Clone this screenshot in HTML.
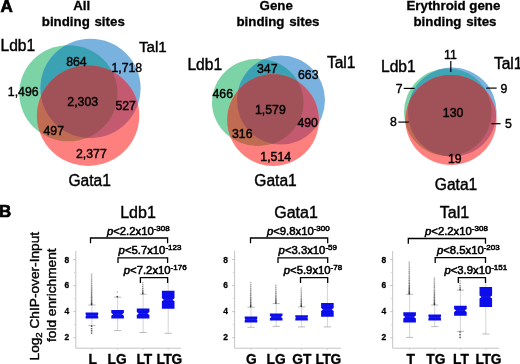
<!DOCTYPE html>
<html lang="en"><head><meta charset="utf-8"><title>Figure</title>
<style>
html,body{margin:0;padding:0;background:#fff;}
svg{display:block;filter:blur(0.45px);}
svg text{font-family:"Liberation Sans", sans-serif;fill:#000;stroke:#000;stroke-width:0.4px;}
svg text[font-weight=bold]{stroke-width:0.3px;}
</style></head>
<body>
<svg width="520" height="364" viewBox="0 0 520 364">
<rect width="520" height="364" fill="#fff"/>
<defs>
<clipPath id="cg1"><ellipse cx="68.40" cy="93.25" rx="49.10" ry="48.05"/></clipPath>
<clipPath id="cb1"><ellipse cx="90.50" cy="88.35" rx="50.10" ry="49.65"/></clipPath>
<clipPath id="cr1"><ellipse cx="88.10" cy="115.70" rx="51.20" ry="50.20"/></clipPath>
</defs>
<ellipse cx="68.40" cy="93.25" rx="49.10" ry="48.05" fill="#7cd4a6"/>
<ellipse cx="90.50" cy="88.35" rx="50.10" ry="49.65" fill="#79b2de"/>
<ellipse cx="88.10" cy="115.70" rx="51.20" ry="50.20" fill="#fd807e"/>
<g clip-path="url(#cb1)"><ellipse cx="68.40" cy="93.25" rx="49.10" ry="48.05" fill="#3ba2b4"/></g>
<g clip-path="url(#cr1)"><ellipse cx="68.40" cy="93.25" rx="49.10" ry="48.05" fill="#bf6c53"/></g>
<g clip-path="url(#cr1)"><ellipse cx="90.50" cy="88.35" rx="50.10" ry="49.65" fill="#c35a70"/></g>
<g clip-path="url(#cr1)"><g clip-path="url(#cb1)"><ellipse cx="68.40" cy="93.25" rx="49.10" ry="48.05" fill="#a05258"/></g></g>
<defs>
<clipPath id="cg2"><ellipse cx="257.75" cy="102.40" rx="45.75" ry="43.70"/></clipPath>
<clipPath id="cb2"><ellipse cx="281.00" cy="100.10" rx="44.00" ry="44.50"/></clipPath>
<clipPath id="cr2"><ellipse cx="273.05" cy="120.10" rx="45.85" ry="45.80"/></clipPath>
</defs>
<ellipse cx="257.75" cy="102.40" rx="45.75" ry="43.70" fill="#7cd4a6"/>
<ellipse cx="281.00" cy="100.10" rx="44.00" ry="44.50" fill="#79b2de"/>
<ellipse cx="273.05" cy="120.10" rx="45.85" ry="45.80" fill="#fd807e"/>
<g clip-path="url(#cb2)"><ellipse cx="257.75" cy="102.40" rx="45.75" ry="43.70" fill="#3ba2b4"/></g>
<g clip-path="url(#cr2)"><ellipse cx="257.75" cy="102.40" rx="45.75" ry="43.70" fill="#bf6c53"/></g>
<g clip-path="url(#cr2)"><ellipse cx="281.00" cy="100.10" rx="44.00" ry="44.50" fill="#c35a70"/></g>
<g clip-path="url(#cr2)"><g clip-path="url(#cb2)"><ellipse cx="257.75" cy="102.40" rx="45.75" ry="43.70" fill="#a05258"/></g></g>
<defs>
<clipPath id="cg3"><ellipse cx="447.80" cy="112.20" rx="43.80" ry="43.80"/></clipPath>
<clipPath id="cb3"><ellipse cx="452.25" cy="112.10" rx="44.35" ry="44.60"/></clipPath>
<clipPath id="cr3"><ellipse cx="451.00" cy="119.95" rx="45.60" ry="45.05"/></clipPath>
</defs>
<ellipse cx="447.80" cy="112.20" rx="43.80" ry="43.80" fill="#7cd4a6"/>
<ellipse cx="452.25" cy="112.10" rx="44.35" ry="44.60" fill="#79b2de"/>
<ellipse cx="451.00" cy="119.95" rx="45.60" ry="45.05" fill="#fd807e"/>
<g clip-path="url(#cb3)"><ellipse cx="447.80" cy="112.20" rx="43.80" ry="43.80" fill="#3fa5b4"/></g>
<g clip-path="url(#cr3)"><ellipse cx="447.80" cy="112.20" rx="43.80" ry="43.80" fill="#bf6c53"/></g>
<g clip-path="url(#cr3)"><ellipse cx="452.25" cy="112.10" rx="44.35" ry="44.60" fill="#c35a70"/></g>
<g clip-path="url(#cr3)"><g clip-path="url(#cb3)"><ellipse cx="447.80" cy="112.20" rx="43.80" ry="43.80" fill="#a05258"/></g></g>
<text x="0.4" y="12.3" font-size="17.0" font-weight="bold" text-anchor="start" style="stroke-width:0.7px">A</text>
<text x="-1.1" y="217.4" font-size="16.9" font-weight="bold" text-anchor="start" style="stroke-width:0.7px">B</text>
<text x="81.7" y="9.9" font-size="13.3" font-weight="bold" text-anchor="middle" >All</text>
<text x="83.3" y="25.8" font-size="13.3" font-weight="bold" text-anchor="middle" word-spacing="1">binding sites</text>
<text x="276.2" y="9.9" font-size="13.3" font-weight="bold" text-anchor="middle" >Gene</text>
<text x="278" y="25.8" font-size="13.3" font-weight="bold" text-anchor="middle" word-spacing="1">binding sites</text>
<text x="453.4" y="9.9" font-size="13.3" font-weight="bold" text-anchor="middle" >Erythroid gene</text>
<text x="455" y="25.8" font-size="13.3" font-weight="bold" text-anchor="middle" word-spacing="1">binding sites</text>
<text x="0.5" y="51.0" font-size="15.6" font-weight="normal" text-anchor="start" >Ldb1</text>
<text x="138.9" y="51.8" font-size="15.2" font-weight="normal" text-anchor="start" >Tal1</text>
<text x="68.4" y="186.2" font-size="15.6" font-weight="normal" text-anchor="start" >Gata1</text>
<text x="187.4" y="70.2" font-size="15.6" font-weight="normal" text-anchor="start" >Ldb1</text>
<text x="326.9" y="67.7" font-size="15.6" font-weight="normal" text-anchor="start" >Tal1</text>
<text x="254.3" y="186.0" font-size="15.6" font-weight="normal" text-anchor="start" >Gata1</text>
<text x="381.0" y="72.0" font-size="15.6" font-weight="normal" text-anchor="start" >Ldb1</text>
<text x="493.9" y="69.2" font-size="15.6" font-weight="normal" text-anchor="start" >Tal1</text>
<text x="434.8" y="189.5" font-size="15.6" font-weight="normal" text-anchor="start" >Gata1</text>
<text x="66.2" y="66.3" font-size="12.3" font-weight="normal" text-anchor="start" >864</text>
<text x="111.4" y="71.8" font-size="12.3" font-weight="normal" text-anchor="start" >1,718</text>
<text x="7.8" y="95.5" font-size="12.3" font-weight="normal" text-anchor="start" >1,496</text>
<text x="67.3" y="105.8" font-size="12.3" font-weight="normal" text-anchor="start" >2,303</text>
<text x="115.4" y="109.8" font-size="12.3" font-weight="normal" text-anchor="start" >527</text>
<text x="43.5" y="135.2" font-size="12.3" font-weight="normal" text-anchor="start" >497</text>
<text x="76" y="157.6" font-size="12.3" font-weight="normal" text-anchor="start" >2,377</text>
<text x="257" y="73.2" font-size="12.3" font-weight="normal" text-anchor="start" >347</text>
<text x="298" y="79.3" font-size="12.3" font-weight="normal" text-anchor="start" >663</text>
<text x="212.5" y="97.8" font-size="12.3" font-weight="normal" text-anchor="start" >466</text>
<text x="255" y="113.8" font-size="12.3" font-weight="normal" text-anchor="start" >1,579</text>
<text x="297.4" y="126.7" font-size="12.3" font-weight="normal" text-anchor="start" >490</text>
<text x="232" y="137.7" font-size="12.3" font-weight="normal" text-anchor="start" >316</text>
<text x="260.3" y="161.3" font-size="12.3" font-weight="normal" text-anchor="start" >1,514</text>
<text x="444.0" y="58.7" font-size="12.3" font-weight="normal" text-anchor="start" >11</text>
<text x="395.8" y="92.9" font-size="12.3" font-weight="normal" text-anchor="start" >7</text>
<text x="500.6" y="92.8" font-size="12.3" font-weight="normal" text-anchor="start" >9</text>
<text x="442.8" y="117.4" font-size="12.3" font-weight="normal" text-anchor="start" >130</text>
<text x="390" y="126" font-size="12.3" font-weight="normal" text-anchor="start" >8</text>
<text x="505" y="128.4" font-size="12.3" font-weight="normal" text-anchor="start" >5</text>
<text x="448" y="163.3" font-size="12.3" font-weight="normal" text-anchor="start" >19</text>
<line x1="450.80" y1="61.00" x2="450.80" y2="72.00" stroke="#000" stroke-width="1.2" />
<line x1="403.70" y1="88.40" x2="414.60" y2="88.40" stroke="#000" stroke-width="1.2" />
<line x1="486.20" y1="88.10" x2="496.60" y2="88.10" stroke="#000" stroke-width="1.2" />
<line x1="398.30" y1="122.10" x2="408.80" y2="122.10" stroke="#000" stroke-width="1.2" />
<line x1="491.40" y1="123.70" x2="500.60" y2="123.70" stroke="#000" stroke-width="1.2" />
<line x1="75.80" y1="251.00" x2="75.80" y2="348.20" stroke="#c4c4c4" stroke-width="1" />
<line x1="75.80" y1="348.20" x2="181.00" y2="348.20" stroke="#c4c4c4" stroke-width="1" />
<line x1="73.40" y1="337.70" x2="75.80" y2="337.70" stroke="#bcbcbc" stroke-width="0.9" />
<text x="69.2" y="339.5" font-size="9.8" font-weight="bold" text-anchor="end" textLength="4.7" lengthAdjust="spacingAndGlyphs">2</text>
<line x1="73.40" y1="311.64" x2="75.80" y2="311.64" stroke="#bcbcbc" stroke-width="0.9" />
<text x="69.2" y="313.6" font-size="9.8" font-weight="bold" text-anchor="end" textLength="4.7" lengthAdjust="spacingAndGlyphs">4</text>
<line x1="73.40" y1="285.58" x2="75.80" y2="285.58" stroke="#bcbcbc" stroke-width="0.9" />
<text x="69.2" y="287.7" font-size="9.8" font-weight="bold" text-anchor="end" textLength="4.7" lengthAdjust="spacingAndGlyphs">6</text>
<line x1="73.40" y1="259.52" x2="75.80" y2="259.52" stroke="#bcbcbc" stroke-width="0.9" />
<text x="69.2" y="262.8" font-size="9.8" font-weight="bold" text-anchor="end" textLength="4.7" lengthAdjust="spacingAndGlyphs">8</text>
<line x1="74.10" y1="324.67" x2="75.80" y2="324.67" stroke="#cfcfcf" stroke-width="0.9" />
<line x1="74.10" y1="298.61" x2="75.80" y2="298.61" stroke="#cfcfcf" stroke-width="0.9" />
<line x1="74.10" y1="272.55" x2="75.80" y2="272.55" stroke="#cfcfcf" stroke-width="0.9" />
<text x="138" y="217.5" font-size="16" font-weight="normal" text-anchor="middle" >Ldb1</text>
<line x1="91.90" y1="305.00" x2="91.90" y2="325.60" stroke="#cccccc" stroke-width="0.85" />
<line x1="88.30" y1="305.00" x2="95.50" y2="305.00" stroke="#b0b0b0" stroke-width="0.85" />
<line x1="88.30" y1="325.60" x2="95.50" y2="325.60" stroke="#b0b0b0" stroke-width="0.85" />
<circle cx="91.6" cy="304.4" r="0.85" fill="#222" opacity="0.88"/>
<circle cx="91.6" cy="303.3" r="0.85" fill="#222" opacity="0.81"/>
<circle cx="91.6" cy="302.0" r="0.85" fill="#222" opacity="0.76"/>
<circle cx="91.6" cy="300.5" r="0.85" fill="#222" opacity="0.72"/>
<circle cx="91.6" cy="299.0" r="0.85" fill="#222" opacity="0.69"/>
<circle cx="91.6" cy="297.4" r="0.85" fill="#222" opacity="0.66"/>
<circle cx="91.6" cy="295.8" r="0.85" fill="#222" opacity="0.63"/>
<circle cx="91.6" cy="294.1" r="0.85" fill="#222" opacity="0.60"/>
<circle cx="91.6" cy="292.4" r="0.85" fill="#222" opacity="0.57"/>
<circle cx="91.6" cy="290.7" r="0.85" fill="#222" opacity="0.54"/>
<circle cx="91.6" cy="288.9" r="0.85" fill="#222" opacity="0.52"/>
<circle cx="91.6" cy="287.1" r="0.85" fill="#222" opacity="0.49"/>
<circle cx="91.6" cy="285.3" r="0.85" fill="#222" opacity="0.47"/>
<circle cx="91.6" cy="283.5" r="0.85" fill="#222" opacity="0.44"/>
<circle cx="91.6" cy="281.6" r="0.85" fill="#222" opacity="0.42"/>
<circle cx="91.6" cy="279.8" r="0.85" fill="#222" opacity="0.40"/>
<circle cx="91.6" cy="277.9" r="0.85" fill="#222" opacity="0.37"/>
<circle cx="91.6" cy="275.9" r="0.85" fill="#222" opacity="0.35"/>
<circle cx="91.6" cy="274.0" r="0.85" fill="#222" opacity="0.33"/>
<circle cx="91.6" cy="326.2" r="0.85" fill="#222" opacity="0.75"/>
<circle cx="91.6" cy="328.5" r="0.85" fill="#222" opacity="0.75"/>
<circle cx="91.6" cy="330.7" r="0.85" fill="#222" opacity="0.75"/>
<circle cx="91.6" cy="333.0" r="0.85" fill="#222" opacity="0.75"/>
<line x1="91.90" y1="348.20" x2="91.90" y2="349.80" stroke="#c4c4c4" stroke-width="0.9" />
<polygon points="85.6,312.6 98.2,312.6 98.2,314.6 97.6,315.6 98.2,316.6 98.2,318.6 85.6,318.6 85.6,316.6 86.2,315.6 85.6,314.6" fill="#0d0dea"/>
<line x1="86.20" y1="315.60" x2="97.60" y2="315.60" stroke="#4a4af0" stroke-width="0.6" opacity="0.45"/>
<text x="92.6" y="363.6" font-size="13.8" font-weight="bold" text-anchor="middle" >L</text>
<line x1="117.60" y1="297.20" x2="117.60" y2="330.60" stroke="#cccccc" stroke-width="0.85" />
<line x1="114.00" y1="297.20" x2="121.20" y2="297.20" stroke="#b0b0b0" stroke-width="0.85" />
<line x1="114.00" y1="330.60" x2="121.20" y2="330.60" stroke="#b0b0b0" stroke-width="0.85" />
<circle cx="117.3" cy="296.6" r="0.85" fill="#222" opacity="0.88"/>
<circle cx="117.3" cy="292.0" r="0.85" fill="#222" opacity="0.33"/>
<line x1="117.60" y1="348.20" x2="117.60" y2="349.80" stroke="#c4c4c4" stroke-width="0.9" />
<polygon points="111.3,310.0 123.9,310.0 123.9,312.9 122.0,314.3 123.9,315.7 123.9,318.6 111.3,318.6 111.3,315.7 113.2,314.3 111.3,312.9" fill="#0d0dea"/>
<line x1="113.21" y1="314.30" x2="121.99" y2="314.30" stroke="#4a4af0" stroke-width="0.6" opacity="0.45"/>
<text x="117.1" y="363.6" font-size="13.8" font-weight="bold" text-anchor="middle" >LG</text>
<line x1="143.10" y1="294.20" x2="143.10" y2="332.50" stroke="#cccccc" stroke-width="0.85" />
<line x1="139.50" y1="294.20" x2="146.70" y2="294.20" stroke="#b0b0b0" stroke-width="0.85" />
<line x1="139.50" y1="332.50" x2="146.70" y2="332.50" stroke="#b0b0b0" stroke-width="0.85" />
<circle cx="142.8" cy="293.6" r="0.85" fill="#222" opacity="0.88"/>
<circle cx="142.8" cy="292.2" r="0.85" fill="#222" opacity="0.72"/>
<circle cx="142.8" cy="290.5" r="0.85" fill="#222" opacity="0.63"/>
<circle cx="142.8" cy="288.6" r="0.85" fill="#222" opacity="0.54"/>
<circle cx="142.8" cy="286.6" r="0.85" fill="#222" opacity="0.47"/>
<circle cx="142.8" cy="284.6" r="0.85" fill="#222" opacity="0.40"/>
<circle cx="142.8" cy="282.5" r="0.85" fill="#222" opacity="0.33"/>
<line x1="143.10" y1="348.20" x2="143.10" y2="349.80" stroke="#c4c4c4" stroke-width="0.9" />
<polygon points="136.8,308.4 149.4,308.4 149.4,312.1 147.4,313.6 149.4,315.1 149.4,318.6 136.8,318.6 136.8,315.1 138.8,313.6 136.8,312.1" fill="#0d0dea"/>
<line x1="138.80" y1="313.60" x2="147.40" y2="313.60" stroke="#4a4af0" stroke-width="0.6" opacity="0.45"/>
<text x="144.4" y="363.6" font-size="13.8" font-weight="bold" text-anchor="middle" >LT</text>
<line x1="168.20" y1="279.00" x2="168.20" y2="333.30" stroke="#cccccc" stroke-width="0.85" />
<line x1="164.60" y1="333.30" x2="171.80" y2="333.30" stroke="#b0b0b0" stroke-width="0.85" />
<line x1="168.20" y1="348.20" x2="168.20" y2="349.80" stroke="#c4c4c4" stroke-width="0.9" />
<polygon points="161.9,290.7 174.5,290.7 174.5,298.2 172.5,299.7 174.5,301.2 174.5,308.8 161.9,308.8 161.9,301.2 163.9,299.7 161.9,298.2" fill="#0d0dea"/>
<line x1="163.90" y1="299.70" x2="172.50" y2="299.70" stroke="#4a4af0" stroke-width="0.6" opacity="0.45"/>
<text x="169.2" y="363.6" font-size="13.8" font-weight="bold" text-anchor="middle" letter-spacing="-0.4">LTG</text>
<polyline points="90.5,243.3 90.5,238 167.6,238 167.6,243.3" fill="none" stroke="#000" stroke-width="1.3"/>
<polyline points="118,263.1 118,257.8 167.6,257.8 167.6,263.1" fill="none" stroke="#000" stroke-width="1.3"/>
<polyline points="140.4,282.9 140.4,277.6 167.6,277.6 167.6,282.9" fill="none" stroke="#000" stroke-width="1.3"/>
<text x="106.9" y="235" font-size="11.3" style="stroke-width:0.55px"><tspan font-style="italic">p</tspan>&lt;2.2x10<tspan font-size="8" dy="-4.3">-308</tspan></text>
<text x="118.6" y="254.4" font-size="11.3" style="stroke-width:0.55px"><tspan font-style="italic">p</tspan>&lt;5.7x10<tspan font-size="8" dy="-4.3">-123</tspan></text>
<text x="123.8" y="274.2" font-size="11.3" style="stroke-width:0.55px"><tspan font-style="italic">p</tspan>&lt;7.2x10<tspan font-size="8" dy="-4.3">-176</tspan></text>
<line x1="234.60" y1="251.00" x2="234.60" y2="348.20" stroke="#c4c4c4" stroke-width="1" />
<line x1="234.60" y1="348.20" x2="341.00" y2="348.20" stroke="#c4c4c4" stroke-width="1" />
<line x1="232.20" y1="337.70" x2="234.60" y2="337.70" stroke="#bcbcbc" stroke-width="0.9" />
<text x="228.0" y="339.5" font-size="9.8" font-weight="bold" text-anchor="end" textLength="4.7" lengthAdjust="spacingAndGlyphs">2</text>
<line x1="232.20" y1="311.64" x2="234.60" y2="311.64" stroke="#bcbcbc" stroke-width="0.9" />
<text x="228.0" y="313.6" font-size="9.8" font-weight="bold" text-anchor="end" textLength="4.7" lengthAdjust="spacingAndGlyphs">4</text>
<line x1="232.20" y1="285.58" x2="234.60" y2="285.58" stroke="#bcbcbc" stroke-width="0.9" />
<text x="228.0" y="287.7" font-size="9.8" font-weight="bold" text-anchor="end" textLength="4.7" lengthAdjust="spacingAndGlyphs">6</text>
<line x1="232.20" y1="259.52" x2="234.60" y2="259.52" stroke="#bcbcbc" stroke-width="0.9" />
<text x="228.0" y="262.8" font-size="9.8" font-weight="bold" text-anchor="end" textLength="4.7" lengthAdjust="spacingAndGlyphs">8</text>
<line x1="232.90" y1="324.67" x2="234.60" y2="324.67" stroke="#cfcfcf" stroke-width="0.9" />
<line x1="232.90" y1="298.61" x2="234.60" y2="298.61" stroke="#cfcfcf" stroke-width="0.9" />
<line x1="232.90" y1="272.55" x2="234.60" y2="272.55" stroke="#cfcfcf" stroke-width="0.9" />
<text x="296" y="217.5" font-size="16" font-weight="normal" text-anchor="middle" >Gata1</text>
<line x1="251.00" y1="307.20" x2="251.00" y2="327.30" stroke="#cccccc" stroke-width="0.85" />
<line x1="247.40" y1="307.20" x2="254.60" y2="307.20" stroke="#b0b0b0" stroke-width="0.85" />
<line x1="247.40" y1="327.30" x2="254.60" y2="327.30" stroke="#b0b0b0" stroke-width="0.85" />
<circle cx="250.7" cy="306.6" r="0.85" fill="#222" opacity="0.88"/>
<circle cx="250.7" cy="305.4" r="0.85" fill="#222" opacity="0.79"/>
<circle cx="250.7" cy="304.0" r="0.85" fill="#222" opacity="0.74"/>
<circle cx="250.7" cy="302.5" r="0.85" fill="#222" opacity="0.69"/>
<circle cx="250.7" cy="300.9" r="0.85" fill="#222" opacity="0.65"/>
<circle cx="250.7" cy="299.2" r="0.85" fill="#222" opacity="0.61"/>
<circle cx="250.7" cy="297.5" r="0.85" fill="#222" opacity="0.58"/>
<circle cx="250.7" cy="295.7" r="0.85" fill="#222" opacity="0.54"/>
<circle cx="250.7" cy="293.9" r="0.85" fill="#222" opacity="0.51"/>
<circle cx="250.7" cy="292.1" r="0.85" fill="#222" opacity="0.48"/>
<circle cx="250.7" cy="290.2" r="0.85" fill="#222" opacity="0.45"/>
<circle cx="250.7" cy="288.3" r="0.85" fill="#222" opacity="0.42"/>
<circle cx="250.7" cy="286.4" r="0.85" fill="#222" opacity="0.39"/>
<circle cx="250.7" cy="284.5" r="0.85" fill="#222" opacity="0.36"/>
<circle cx="250.7" cy="282.5" r="0.85" fill="#222" opacity="0.33"/>
<line x1="251.00" y1="348.20" x2="251.00" y2="349.80" stroke="#c4c4c4" stroke-width="0.9" />
<polygon points="244.7,316.5 257.3,316.5 257.3,318.4 256.7,319.4 257.3,320.4 257.3,322.5 244.7,322.5 244.7,320.4 245.3,319.4 244.7,318.4" fill="#0d0dea"/>
<line x1="245.30" y1="319.40" x2="256.70" y2="319.40" stroke="#4a4af0" stroke-width="0.6" opacity="0.45"/>
<text x="251.4" y="363.6" font-size="13.8" font-weight="bold" text-anchor="middle" >G</text>
<line x1="276.20" y1="303.60" x2="276.20" y2="326.40" stroke="#cccccc" stroke-width="0.85" />
<line x1="272.60" y1="303.60" x2="279.80" y2="303.60" stroke="#b0b0b0" stroke-width="0.85" />
<line x1="272.60" y1="326.40" x2="279.80" y2="326.40" stroke="#b0b0b0" stroke-width="0.85" />
<circle cx="275.9" cy="303.0" r="0.85" fill="#222" opacity="0.88"/>
<circle cx="275.9" cy="301.8" r="0.85" fill="#222" opacity="0.77"/>
<circle cx="275.9" cy="300.2" r="0.85" fill="#222" opacity="0.70"/>
<circle cx="275.9" cy="298.6" r="0.85" fill="#222" opacity="0.64"/>
<circle cx="275.9" cy="296.9" r="0.85" fill="#222" opacity="0.59"/>
<circle cx="275.9" cy="295.1" r="0.85" fill="#222" opacity="0.54"/>
<circle cx="275.9" cy="293.2" r="0.85" fill="#222" opacity="0.50"/>
<circle cx="275.9" cy="291.3" r="0.85" fill="#222" opacity="0.45"/>
<circle cx="275.9" cy="289.4" r="0.85" fill="#222" opacity="0.41"/>
<circle cx="275.9" cy="287.4" r="0.85" fill="#222" opacity="0.37"/>
<circle cx="275.9" cy="285.4" r="0.85" fill="#222" opacity="0.33"/>
<line x1="276.20" y1="348.20" x2="276.20" y2="349.80" stroke="#c4c4c4" stroke-width="0.9" />
<polygon points="269.9,313.4 282.5,313.4 282.5,315.8 280.9,317.0 282.5,318.2 282.5,320.6 269.9,320.6 269.9,318.2 271.5,317.0 269.9,315.8" fill="#0d0dea"/>
<line x1="271.50" y1="317.00" x2="280.90" y2="317.00" stroke="#4a4af0" stroke-width="0.6" opacity="0.45"/>
<text x="276.2" y="363.6" font-size="13.8" font-weight="bold" text-anchor="middle" >LG</text>
<line x1="301.60" y1="306.80" x2="301.60" y2="326.90" stroke="#cccccc" stroke-width="0.85" />
<line x1="298.00" y1="306.80" x2="305.20" y2="306.80" stroke="#b0b0b0" stroke-width="0.85" />
<line x1="298.00" y1="326.90" x2="305.20" y2="326.90" stroke="#b0b0b0" stroke-width="0.85" />
<circle cx="301.3" cy="306.2" r="0.85" fill="#222" opacity="0.88"/>
<circle cx="301.3" cy="304.9" r="0.85" fill="#222" opacity="0.77"/>
<circle cx="301.3" cy="303.3" r="0.85" fill="#222" opacity="0.70"/>
<circle cx="301.3" cy="301.6" r="0.85" fill="#222" opacity="0.64"/>
<circle cx="301.3" cy="299.9" r="0.85" fill="#222" opacity="0.59"/>
<circle cx="301.3" cy="298.0" r="0.85" fill="#222" opacity="0.54"/>
<circle cx="301.3" cy="296.1" r="0.85" fill="#222" opacity="0.50"/>
<circle cx="301.3" cy="294.1" r="0.85" fill="#222" opacity="0.45"/>
<circle cx="301.3" cy="292.1" r="0.85" fill="#222" opacity="0.41"/>
<circle cx="301.3" cy="290.1" r="0.85" fill="#222" opacity="0.37"/>
<circle cx="301.3" cy="288.0" r="0.85" fill="#222" opacity="0.33"/>
<line x1="301.60" y1="348.20" x2="301.60" y2="349.80" stroke="#c4c4c4" stroke-width="0.9" />
<polygon points="295.3,315.2 307.9,315.2 307.9,316.9 307.3,317.8 307.9,318.7 307.9,320.6 295.3,320.6 295.3,318.7 295.9,317.8 295.3,316.9" fill="#0d0dea"/>
<line x1="295.90" y1="317.80" x2="307.30" y2="317.80" stroke="#4a4af0" stroke-width="0.6" opacity="0.45"/>
<text x="301.8" y="363.6" font-size="13.8" font-weight="bold" text-anchor="middle" >GT</text>
<line x1="327.40" y1="281.60" x2="327.40" y2="326.90" stroke="#cccccc" stroke-width="0.85" />
<line x1="323.80" y1="326.90" x2="331.00" y2="326.90" stroke="#b0b0b0" stroke-width="0.85" />
<line x1="327.40" y1="348.20" x2="327.40" y2="349.80" stroke="#c4c4c4" stroke-width="0.9" />
<polygon points="321.1,302.9 333.7,302.9 333.7,308.0 331.7,309.5 333.7,311.0 333.7,316.8 321.1,316.8 321.1,311.0 323.1,309.5 321.1,308.0" fill="#0d0dea"/>
<line x1="323.10" y1="309.50" x2="331.70" y2="309.50" stroke="#4a4af0" stroke-width="0.6" opacity="0.45"/>
<text x="328.09999999999997" y="363.6" font-size="13.8" font-weight="bold" text-anchor="middle" letter-spacing="-0.4">LTG</text>
<polyline points="250.5,243.3 250.5,238 327.7,238 327.7,243.3" fill="none" stroke="#000" stroke-width="1.3"/>
<polyline points="278,263.1 278,257.8 327.7,257.8 327.7,263.1" fill="none" stroke="#000" stroke-width="1.3"/>
<polyline points="300.5,282.9 300.5,277.6 327.7,277.6 327.7,282.9" fill="none" stroke="#000" stroke-width="1.3"/>
<text x="266.9" y="235" font-size="11.3" style="stroke-width:0.55px"><tspan font-style="italic">p</tspan>&lt;9.8x10<tspan font-size="8" dy="-4.3">-300</tspan></text>
<text x="278.6" y="254.4" font-size="11.3" style="stroke-width:0.55px"><tspan font-style="italic">p</tspan>&lt;3.3x10<tspan font-size="8" dy="-4.3">-59</tspan></text>
<text x="283.8" y="274.2" font-size="11.3" style="stroke-width:0.55px"><tspan font-style="italic">p</tspan>&lt;5.9x10<tspan font-size="8" dy="-4.3">-78</tspan></text>
<line x1="392.70" y1="251.00" x2="392.70" y2="348.20" stroke="#c4c4c4" stroke-width="1" />
<line x1="392.70" y1="348.20" x2="499.00" y2="348.20" stroke="#c4c4c4" stroke-width="1" />
<line x1="390.30" y1="337.70" x2="392.70" y2="337.70" stroke="#bcbcbc" stroke-width="0.9" />
<text x="386.09999999999997" y="339.5" font-size="9.8" font-weight="bold" text-anchor="end" textLength="4.7" lengthAdjust="spacingAndGlyphs">2</text>
<line x1="390.30" y1="311.64" x2="392.70" y2="311.64" stroke="#bcbcbc" stroke-width="0.9" />
<text x="386.09999999999997" y="313.6" font-size="9.8" font-weight="bold" text-anchor="end" textLength="4.7" lengthAdjust="spacingAndGlyphs">4</text>
<line x1="390.30" y1="285.58" x2="392.70" y2="285.58" stroke="#bcbcbc" stroke-width="0.9" />
<text x="386.09999999999997" y="287.7" font-size="9.8" font-weight="bold" text-anchor="end" textLength="4.7" lengthAdjust="spacingAndGlyphs">6</text>
<line x1="390.30" y1="259.52" x2="392.70" y2="259.52" stroke="#bcbcbc" stroke-width="0.9" />
<text x="386.09999999999997" y="262.8" font-size="9.8" font-weight="bold" text-anchor="end" textLength="4.7" lengthAdjust="spacingAndGlyphs">8</text>
<line x1="391.00" y1="324.67" x2="392.70" y2="324.67" stroke="#cfcfcf" stroke-width="0.9" />
<line x1="391.00" y1="298.61" x2="392.70" y2="298.61" stroke="#cfcfcf" stroke-width="0.9" />
<line x1="391.00" y1="272.55" x2="392.70" y2="272.55" stroke="#cfcfcf" stroke-width="0.9" />
<text x="454.5" y="217.5" font-size="16" font-weight="normal" text-anchor="middle" >Tal1</text>
<line x1="409.60" y1="294.30" x2="409.60" y2="337.40" stroke="#cccccc" stroke-width="0.85" />
<line x1="406.00" y1="294.30" x2="413.20" y2="294.30" stroke="#b0b0b0" stroke-width="0.85" />
<line x1="406.00" y1="337.40" x2="413.20" y2="337.40" stroke="#b0b0b0" stroke-width="0.85" />
<circle cx="409.3" cy="293.7" r="0.85" fill="#222" opacity="0.88"/>
<circle cx="409.3" cy="292.6" r="0.85" fill="#222" opacity="0.81"/>
<circle cx="409.3" cy="291.3" r="0.85" fill="#222" opacity="0.77"/>
<circle cx="409.3" cy="289.9" r="0.85" fill="#222" opacity="0.73"/>
<circle cx="409.3" cy="288.4" r="0.85" fill="#222" opacity="0.70"/>
<circle cx="409.3" cy="286.9" r="0.85" fill="#222" opacity="0.66"/>
<circle cx="409.3" cy="285.3" r="0.85" fill="#222" opacity="0.63"/>
<circle cx="409.3" cy="283.6" r="0.85" fill="#222" opacity="0.61"/>
<circle cx="409.3" cy="282.0" r="0.85" fill="#222" opacity="0.58"/>
<circle cx="409.3" cy="280.3" r="0.85" fill="#222" opacity="0.55"/>
<circle cx="409.3" cy="278.5" r="0.85" fill="#222" opacity="0.53"/>
<circle cx="409.3" cy="276.8" r="0.85" fill="#222" opacity="0.50"/>
<circle cx="409.3" cy="275.0" r="0.85" fill="#222" opacity="0.48"/>
<circle cx="409.3" cy="273.2" r="0.85" fill="#222" opacity="0.46"/>
<circle cx="409.3" cy="271.4" r="0.85" fill="#222" opacity="0.44"/>
<circle cx="409.3" cy="269.5" r="0.85" fill="#222" opacity="0.41"/>
<circle cx="409.3" cy="267.7" r="0.85" fill="#222" opacity="0.39"/>
<circle cx="409.3" cy="265.8" r="0.85" fill="#222" opacity="0.37"/>
<circle cx="409.3" cy="263.9" r="0.85" fill="#222" opacity="0.35"/>
<circle cx="409.3" cy="262.0" r="0.85" fill="#222" opacity="0.33"/>
<line x1="409.60" y1="348.20" x2="409.60" y2="349.80" stroke="#c4c4c4" stroke-width="0.9" />
<polygon points="403.3,312.3 415.9,312.3 415.9,315.5 413.9,317.0 415.9,318.5 415.9,322.5 403.3,322.5 403.3,318.5 405.3,317.0 403.3,315.5" fill="#0d0dea"/>
<line x1="405.30" y1="317.00" x2="413.90" y2="317.00" stroke="#4a4af0" stroke-width="0.6" opacity="0.45"/>
<text x="410.7" y="363.6" font-size="13.8" font-weight="bold" text-anchor="middle" >T</text>
<line x1="434.70" y1="305.00" x2="434.70" y2="326.60" stroke="#cccccc" stroke-width="0.85" />
<line x1="431.10" y1="305.00" x2="438.30" y2="305.00" stroke="#b0b0b0" stroke-width="0.85" />
<line x1="431.10" y1="326.60" x2="438.30" y2="326.60" stroke="#b0b0b0" stroke-width="0.85" />
<circle cx="434.4" cy="304.4" r="0.85" fill="#222" opacity="0.88"/>
<circle cx="434.4" cy="303.3" r="0.85" fill="#222" opacity="0.80"/>
<circle cx="434.4" cy="302.0" r="0.85" fill="#222" opacity="0.75"/>
<circle cx="434.4" cy="300.5" r="0.85" fill="#222" opacity="0.71"/>
<circle cx="434.4" cy="299.0" r="0.85" fill="#222" opacity="0.67"/>
<circle cx="434.4" cy="297.5" r="0.85" fill="#222" opacity="0.64"/>
<circle cx="434.4" cy="295.9" r="0.85" fill="#222" opacity="0.60"/>
<circle cx="434.4" cy="294.2" r="0.85" fill="#222" opacity="0.57"/>
<circle cx="434.4" cy="292.5" r="0.85" fill="#222" opacity="0.54"/>
<circle cx="434.4" cy="290.8" r="0.85" fill="#222" opacity="0.51"/>
<circle cx="434.4" cy="289.0" r="0.85" fill="#222" opacity="0.48"/>
<circle cx="434.4" cy="287.2" r="0.85" fill="#222" opacity="0.46"/>
<circle cx="434.4" cy="285.4" r="0.85" fill="#222" opacity="0.43"/>
<circle cx="434.4" cy="283.6" r="0.85" fill="#222" opacity="0.40"/>
<circle cx="434.4" cy="281.8" r="0.85" fill="#222" opacity="0.38"/>
<circle cx="434.4" cy="279.9" r="0.85" fill="#222" opacity="0.35"/>
<circle cx="434.4" cy="278.0" r="0.85" fill="#222" opacity="0.33"/>
<line x1="434.70" y1="348.20" x2="434.70" y2="349.80" stroke="#c4c4c4" stroke-width="0.9" />
<polygon points="428.4,314.5 441.0,314.5 441.0,316.4 440.4,317.4 441.0,318.4 441.0,320.4 428.4,320.4 428.4,318.4 429.0,317.4 428.4,316.4" fill="#0d0dea"/>
<line x1="429.00" y1="317.40" x2="440.40" y2="317.40" stroke="#4a4af0" stroke-width="0.6" opacity="0.45"/>
<text x="435.9" y="363.6" font-size="13.8" font-weight="bold" text-anchor="middle" >TG</text>
<line x1="460.40" y1="290.20" x2="460.40" y2="331.40" stroke="#cccccc" stroke-width="0.85" />
<line x1="456.80" y1="290.20" x2="464.00" y2="290.20" stroke="#b0b0b0" stroke-width="0.85" />
<line x1="456.80" y1="331.40" x2="464.00" y2="331.40" stroke="#b0b0b0" stroke-width="0.85" />
<circle cx="460.1" cy="289.6" r="0.85" fill="#222" opacity="0.88"/>
<circle cx="460.1" cy="287.8" r="0.85" fill="#222" opacity="0.67"/>
<circle cx="460.1" cy="285.6" r="0.85" fill="#222" opacity="0.54"/>
<circle cx="460.1" cy="283.3" r="0.85" fill="#222" opacity="0.43"/>
<circle cx="460.1" cy="280.8" r="0.85" fill="#222" opacity="0.33"/>
<circle cx="460.1" cy="332.0" r="0.85" fill="#222" opacity="0.75"/>
<circle cx="460.1" cy="334.7" r="0.85" fill="#222" opacity="0.75"/>
<circle cx="460.1" cy="337.4" r="0.85" fill="#222" opacity="0.75"/>
<line x1="460.40" y1="348.20" x2="460.40" y2="349.80" stroke="#c4c4c4" stroke-width="0.9" />
<polygon points="454.1,305.8 466.7,305.8 466.7,309.0 464.7,310.5 466.7,312.0 466.7,315.8 454.1,315.8 454.1,312.0 456.1,310.5 454.1,309.0" fill="#0d0dea"/>
<line x1="456.10" y1="310.50" x2="464.70" y2="310.50" stroke="#4a4af0" stroke-width="0.6" opacity="0.45"/>
<text x="461" y="363.6" font-size="13.8" font-weight="bold" text-anchor="middle" >LT</text>
<line x1="485.80" y1="279.50" x2="485.80" y2="334.00" stroke="#cccccc" stroke-width="0.85" />
<line x1="482.20" y1="334.00" x2="489.40" y2="334.00" stroke="#b0b0b0" stroke-width="0.85" />
<line x1="485.80" y1="348.20" x2="485.80" y2="349.80" stroke="#c4c4c4" stroke-width="0.9" />
<polygon points="479.5,287.0 492.1,287.0 492.1,295.5 490.1,297.0 492.1,298.5 492.1,307.0 479.5,307.0 479.5,298.5 481.5,297.0 479.5,295.5" fill="#0d0dea"/>
<line x1="481.50" y1="297.00" x2="490.10" y2="297.00" stroke="#4a4af0" stroke-width="0.6" opacity="0.45"/>
<text x="488.3" y="363.6" font-size="13.8" font-weight="bold" text-anchor="middle" letter-spacing="-0.4">LTG</text>
<polyline points="408.3,243.8 408.3,238.5 485.5,238.5 485.5,243.8" fill="none" stroke="#000" stroke-width="1.3"/>
<polyline points="435.2,262.9 435.2,257.6 485.5,257.6 485.5,262.9" fill="none" stroke="#000" stroke-width="1.3"/>
<polyline points="458.3,283.0 458.3,277.7 485.5,277.7 485.5,283.0" fill="none" stroke="#000" stroke-width="1.3"/>
<text x="425" y="235" font-size="11.3" style="stroke-width:0.55px"><tspan font-style="italic">p</tspan>&lt;2.2x10<tspan font-size="8" dy="-4.3">-308</tspan></text>
<text x="436.9" y="253.9" font-size="11.3" style="stroke-width:0.55px"><tspan font-style="italic">p</tspan>&lt;8.5x10<tspan font-size="8" dy="-4.3">-203</tspan></text>
<text x="444.4" y="274.3" font-size="11.3" style="stroke-width:0.55px"><tspan font-style="italic">p</tspan>&lt;3.9x10<tspan font-size="8" dy="-4.3">-151</tspan></text>
<text transform="translate(38.8,296.2) rotate(-90)" font-size="13.7" class="h" text-anchor="middle">Log<tspan font-size="9.5" dy="2.8">2</tspan><tspan dy="-2.8"> ChIP-over-Input</tspan></text>
<text transform="translate(56.0,295.2) rotate(-90)" font-size="13.7" class="h" text-anchor="middle">fold enrichment</text>
</svg>
</body></html>
